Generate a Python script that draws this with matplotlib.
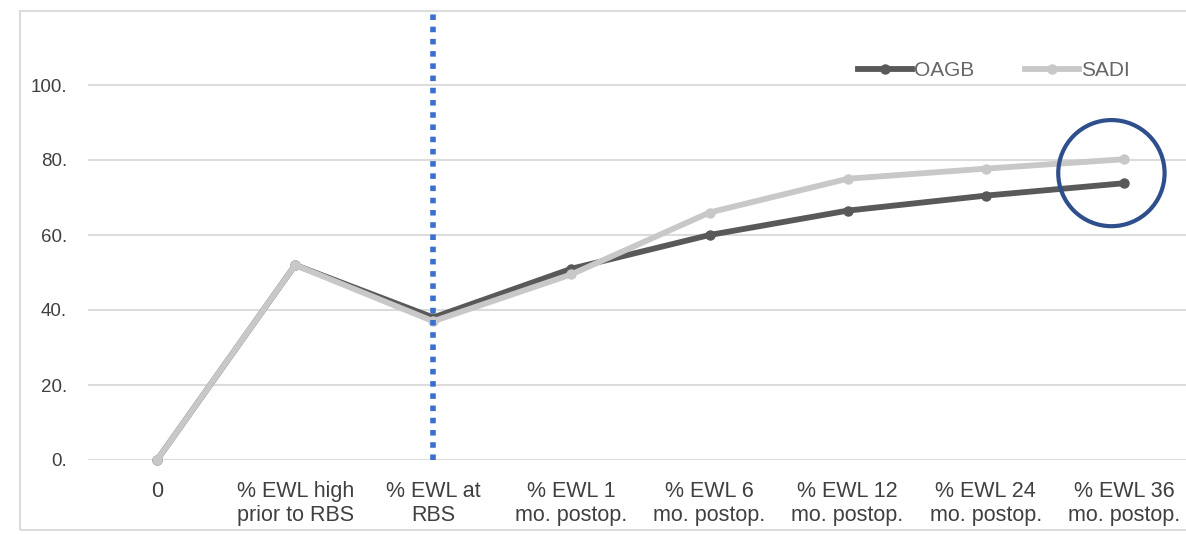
import numpy as np
import matplotlib.pyplot as plt
from matplotlib.patches import Ellipse, Rectangle

plt.rcParams['font.family'] = ['Liberation Sans', 'DejaVu Sans']

categories = ['0', '% EWL high\nprior to RBS', '% EWL at\nRBS', '% EWL 1\nmo. postop.',
              '% EWL 6\nmo. postop.', '% EWL 12\nmo. postop.', '% EWL 24\nmo. postop.',
              '% EWL 36\nmo. postop.']
oagb = [0, 52, 38, 51, 60, 66.5, 70.5, 73.8]
sadi = [0, 52, 37, 49.5, 66, 75, 77.7, 80.2]
y_ticks = [0, 20, 40, 60, 80, 100]
y_labels = ['0.', '20.', '40.', '60.', '80.', '100.']

W, H = 1186, 534
fig = plt.figure(figsize=(W / 100, H / 100), dpi=100)

# light frame round the whole chart
fig.patches.append(Rectangle((20 / W, 4 / H), 1.2, (H - 15) / H, transform=fig.transFigure,
                             fill=False, edgecolor='#dcdcdc', lw=1.5))

ax = fig.add_axes([88 / W, 74 / H, (1186 - 88) / W, 450 / H])
x = np.arange(len(categories))

ax.plot(x, oagb, color='#595959', lw=4.2, marker='o', ms=6.5, label='OAGB', clip_on=False, zorder=3)
ax.plot(x, sadi, color='#c8c8c8', lw=4.2, marker='o', ms=6.5, label='SADI', clip_on=False, zorder=3)

ax.axvline(2, color='#3a6fd0', lw=4, ls=(0, (1, 1.2)), dash_capstyle='butt', zorder=4)

ax.add_patch(Ellipse((6.91, 76.5), 0.77, 28.3, fill=False, edgecolor='#2e4f8c', lw=3, zorder=5))

ax.set_xlim(-0.5, 7.45)
ax.set_ylim(0, 120)
ax.set_yticks(y_ticks)
ax.set_yticklabels(y_labels)
ax.set_xticks(x)
ax.set_xticklabels(categories, linespacing=1.2)
ax.grid(axis='y', color='#dcdcdc', lw=1.5)
ax.set_axisbelow(True)
for s in ax.spines.values():
    s.set_visible(False)
ax.tick_params(length=0, colors='#404040')
ax.tick_params(axis='y', pad=15, labelsize=13.5)
ax.tick_params(axis='x', pad=15, labelsize=15.5)

fig.legend(*ax.get_legend_handles_labels(), loc='center left', bbox_to_anchor=(858 / W, 1 - 71 / H),
           ncol=2, frameon=False, fontsize=15, labelcolor='#666666', handlelength=2.6,
           columnspacing=2.4, handletextpad=0.1, borderpad=0, borderaxespad=0)

fig.savefig('out.png', dpi=100)
